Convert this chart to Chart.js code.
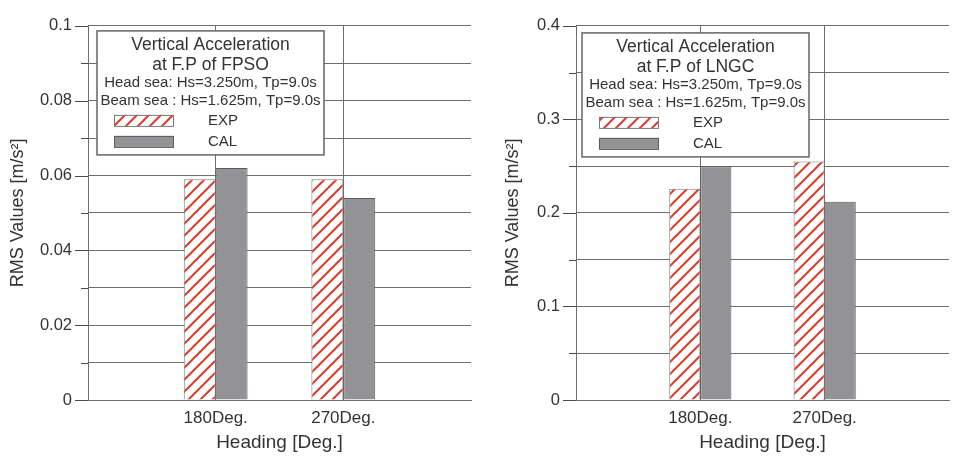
<!DOCTYPE html>
<html>
<head>
<meta charset="utf-8">
<script src="https://cdn.jsdelivr.net/npm/chart.js@4"></script>
<style>
  body { margin: 0; background: #fff; }
  #c1 { position: absolute; left: 0; top: 0; }
  #c2 { position: absolute; left: 480px; top: 0; }
</style>
</head>
<body>
<canvas id="c1" width="480" height="456"></canvas>
<canvas id="c2" width="477" height="456"></canvas>
<script>
// data
const headings = ['180Deg.', '270Deg.'];
const fpsoExp = [0.059, 0.059];
const fpsoCal = [0.062, 0.054];
const lngcExp = [0.226, 0.255];
const lngcCal = [0.25, 0.212];

const fpsoTitle = ['Vertical Acceleration', 'at F.P of FPSO'];
const lngcTitle = ['Vertical Acceleration', 'at F.P of LNGC'];
const seaStates = ['Head sea: Hs=3.250m, Tp=9.0s', 'Beam sea : Hs=1.625m, Tp=9.0s'];

const FONT = '"Liberation Sans", Arial, sans-serif';
const TEXT = '#333';
const GRID = '#6e6e6e';

Chart.defaults.font.family = FONT;
Chart.defaults.color = TEXT;

// red hatch for the EXP bars
function hatch() {
    const c = document.createElement('canvas');
    c.width = 12; c.height = 12;
    const g = c.getContext('2d');
    g.fillStyle = '#fff';
    g.fillRect(0, 0, 12, 12);
    g.strokeStyle = '#dc3a2b';
    g.lineWidth = 2;
    g.beginPath();
    g.moveTo(0, 12); g.lineTo(12, 0);
    g.moveTo(-6, 6); g.lineTo(6, -6);
    g.moveTo(6, 18); g.lineTo(18, 6);
    g.stroke();
    return g.createPattern(c, 'repeat');
}
const hatchFill = hatch();

// long ticks on labelled values, short ticks between them
const yTicks = {
    id: 'yTicks',
    afterDraw(chart) {
        const s = chart.scales.y;
        const ctx = chart.ctx;
        ctx.save();
        ctx.strokeStyle = '#4a4a4a';
        ctx.lineWidth = 1;
        s.ticks.forEach((t, i) => {
            const py = Math.round(s.getPixelForValue(t.value)) + 0.5;
            const len = i % 2 === 0 ? 13 : 7;
            ctx.beginPath();
            ctx.moveTo(s.right - len, py);
            ctx.lineTo(s.right, py);
            ctx.stroke();
        });
        ctx.restore();
    }
};

// boxed legend inside the plot
const legendBox = {
    id: 'legendBox',
    afterDraw(chart, args, opts) {
        const ctx = chart.ctx;
        const x = chart.chartArea.left + opts.x;
        const y = chart.chartArea.top + opts.y;
        const w = 227, h = 124;
        ctx.save();
        ctx.fillStyle = '#fff';
        ctx.fillRect(x, y, w, h);
        ctx.strokeStyle = '#666';
        ctx.lineWidth = 1.5;
        ctx.strokeRect(x, y, w, h);

        ctx.fillStyle = TEXT;
        ctx.textAlign = 'center';
        ctx.textBaseline = 'middle';
        ctx.font = '17.5px ' + FONT;
        opts.title.forEach((t, i) => ctx.fillText(t, x + w / 2, y + 14 + i * 20));
        ctx.font = '15px ' + FONT;
        seaStates.forEach((t, i) => ctx.fillText(t, x + w / 2, y + 52 + i * 18));

        chart.data.datasets.forEach((ds, i) => {
            const sy = y + 84 + i * 21;
            ctx.fillStyle = ds.backgroundColor;
            ctx.fillRect(x + 17, sy, 59, 11);
            ctx.strokeStyle = ds.borderColor;
            ctx.lineWidth = 1;
            ctx.strokeRect(x + 17.5, sy + 0.5, 59, 11);
            ctx.fillStyle = TEXT;
            ctx.textAlign = 'left';
            ctx.fillText(ds.label, x + 111, sy + 6);
        });
        ctx.restore();
    }
};

function makeChart(id, exp, cal, yMax, yStep, yAxisWidth, titlePad, rightPad, box, title) {
    const labels = ['', ...headings, ''];
    return new Chart(document.getElementById(id), {
        type: 'bar',
        data: {
            labels: labels,
            datasets: [{
                label: 'EXP',
                data: [null, ...exp, null],
                backgroundColor: hatchFill,
                borderColor: '#7a7a7a',
                borderWidth: 1,
                categoryPercentage: 0.5,
                barPercentage: 1
            }, {
                label: 'CAL',
                data: [null, ...cal, null],
                backgroundColor: '#929297',
                borderColor: '#5c5c5c',
                borderWidth: 1,
                categoryPercentage: 0.5,
                barPercentage: 1
            }]
        },
        options: {
            responsive: false,
            animation: false,
            layout: { padding: { top: 16, right: rightPad, left: 0, bottom: 0 } },
            plugins: {
                legend: { display: false },
                tooltip: { enabled: false },
                legendBox: { x: box[0], y: box[1], title: title }
            },
            scales: {
                x: {
                    offset: false,
                    grid: {
                        offset: false,
                        drawTicks: false,
                        color: (c) => c.index === 3 ? 'rgba(0,0,0,0)' : GRID
                    },
                    border: { color: GRID },
                    ticks: {
                        padding: 8,
                        maxRotation: 0,
                        autoSkip: false,
                        font: { size: 17 },
                        color: TEXT
                    },
                    title: {
                        display: true,
                        text: 'Heading [Deg.]',
                        font: { size: 19 },
                        color: TEXT,
                        padding: { top: 0, bottom: 2 }
                    },
                    afterFit: (s) => { s.height = 56; }
                },
                y: {
                    min: 0,
                    max: yMax,
                    grid: { drawTicks: false, color: GRID },
                    border: { color: GRID },
                    ticks: {
                        stepSize: yStep,
                        padding: 16,
                        font: { size: 16.5 },
                        color: TEXT,
                        callback: (v, i) => i % 2 ? '' : String(Number(v.toFixed(3)))
                    },
                    title: {
                        display: true,
                        text: 'RMS Values [m/s²]',
                        font: { size: 18 },
                        color: TEXT,
                        padding: { top: titlePad, bottom: 0 }
                    },
                    afterFit: (s) => { s.width = yAxisWidth; }
                }
            }
        },
        plugins: [yTicks, legendBox]
    });
}

makeChart('c1', fpsoExp, fpsoCal, 0.1, 0.01, 88, 7, 9, [9, 5], fpsoTitle);
makeChart('c2', lngcExp, lngcCal, 0.4, 0.05, 96, 22, 0, [6, 7], lngcTitle);
</script>
</body>
</html>
